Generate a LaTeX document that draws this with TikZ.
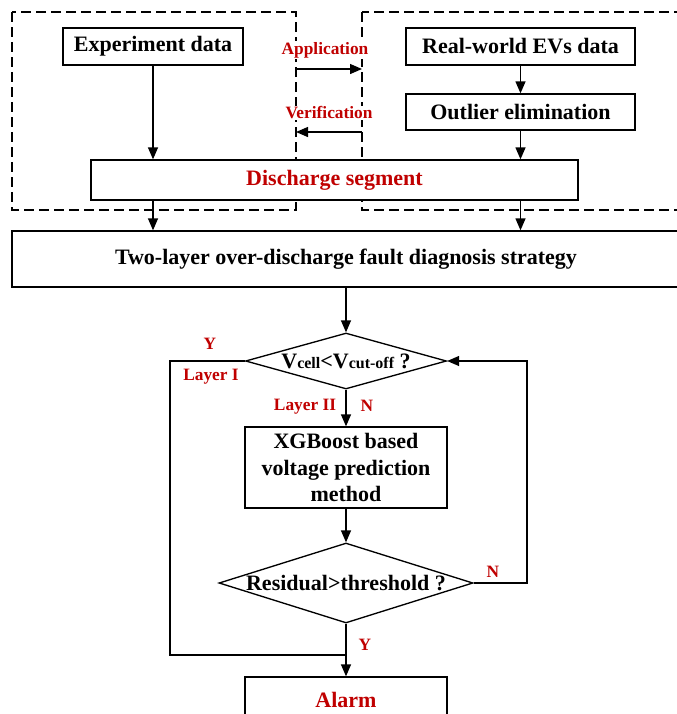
\documentclass[tikz,border=0pt]{standalone}
\usepackage{fontspec}
\setmainfont{Liberation Serif}
\usetikzlibrary{shapes.geometric,arrows.meta}
\definecolor{dkred}{RGB}{192,0,0}

\begin{document}
\begin{tikzpicture}[x=0.75pt,y=0.75pt,yscale=-1,xscale=1,
  box/.style={draw,fill=white,line width=1pt,inner sep=0.75pt,align=center,font=\fontsize{16.5}{20}\selectfont\bfseries},
  decision/.style={draw,fill=white,line width=1pt,shape=diamond,inner sep=0pt,font=\fontsize{16.5}{20}\selectfont\bfseries},
  groupbox/.style={line width=1pt,dash pattern=on 7.5pt off 3.75pt},
  flow/.style={line width=1pt,-{Triangle[length=9pt,width=7.5pt]}},
  plain/.style={line width=1pt},
  redlabel/.style={text=dkred,inner sep=0.75pt,font=\fontsize{13}{15}\selectfont\bfseries}
]
\useasboundingbox (0,0) rectangle (676,714);

%Shape: Rectangle [dashed, experiment side]
\draw [groupbox] (12,12) rectangle (296,210) ;
%Shape: Rectangle [dashed, real-world side]
\draw [groupbox] (362,12) rectangle (700,210) ;

% Text Node
\node [box,minimum width=135pt,minimum height=27.75pt] (expdata) at (153,46.5) {Experiment data};
% Text Node
\node [box,minimum width=171.75pt,minimum height=27.75pt] (realdata) at (520.5,46.5) {Real-world EVs data};
% Text Node
\node [box,minimum width=171.75pt,minimum height=27pt] (outlier) at (520.5,112) {Outlier elimination};
% Text Node
\node [box,minimum width=365.25pt,minimum height=30pt,text=dkred] (segment) at (334.5,180) {Discharge segment};
% Text Node
\node [box,minimum width=501pt,minimum height=42pt] (strategy) at (346,259) {Two-layer over-discharge fault diagnosis strategy};

%Shape: Diamond
\node [decision,minimum width=150.75pt,minimum height=42pt] (vcheck) at (346,361)
  {\makebox[0pt]{V{\fontsize{12}{12}\selectfont cell}<V{\fontsize{12}{12}\selectfont cut-off} ?}};
% Text Node
\node [box,minimum width=151.5pt,minimum height=60.75pt] (xgb) at (346,467.5) {XGBoost based\\voltage prediction\\method};
%Shape: Diamond
\node [decision,minimum width=190.5pt,minimum height=60pt] (rcheck) at (346,583)
  {\makebox[0pt]{Residual>threshold ?}};
% Text Node
\node [box,minimum width=151.5pt,minimum height=34.5pt,text=dkred] (alarm) at (346,700) {Alarm};

% Text Node
\node [redlabel,fill=white] (applabel) at (325,50) {Application};
\node [redlabel,fill=white] (verlabel) at (329,113) {Verification};
\node [redlabel] (ylabel) at (210,344) {Y};
\node [redlabel] (layerone) at (211,377) {Layer I};
\node [redlabel] (layertwo) at (305,407) {Layer II};
\node [redlabel] (nlabel) at (367,406) {N};
\node [redlabel] (nlabelb) at (493,572) {N};
\node [redlabel] (ylabelb) at (365,645) {Y};

\coordinate (appstart) at (296,69);
\coordinate (append) at (362,69);
\coordinate (verstart) at (362,132);
\coordinate (verend) at (296,132);
\coordinate (leftbend) at (170,655);
\coordinate (rightbend) at (527,583);

%Straight Lines
\draw [flow] (appstart) -- (append) ;
\draw [flow] (verstart) -- (verend) ;
\draw [flow] (expdata) -- (expdata |- segment.north) ;
\draw [flow] (realdata) -- (outlier) ;
\draw [flow] (outlier) -- (outlier |- segment.north) ;
\draw [flow] (expdata |- segment.south) -- (expdata |- strategy.north) ;
\draw [flow] (outlier |- segment.south) -- (outlier |- strategy.north) ;
\draw [flow] (vcheck |- strategy.south) -- (vcheck.north) ;
\draw [flow] (vcheck) -- (xgb) ;
\draw [flow] (xgb) -- (rcheck) ;
\draw [flow] (rcheck) -- (alarm) ;
\draw [plain] (vcheck.west) -| (leftbend) -- (leftbend -| alarm.north) ;
\draw [flow] (rcheck.east) -- (rightbend) |- (vcheck.east) ;

\end{tikzpicture}
\end{document}
